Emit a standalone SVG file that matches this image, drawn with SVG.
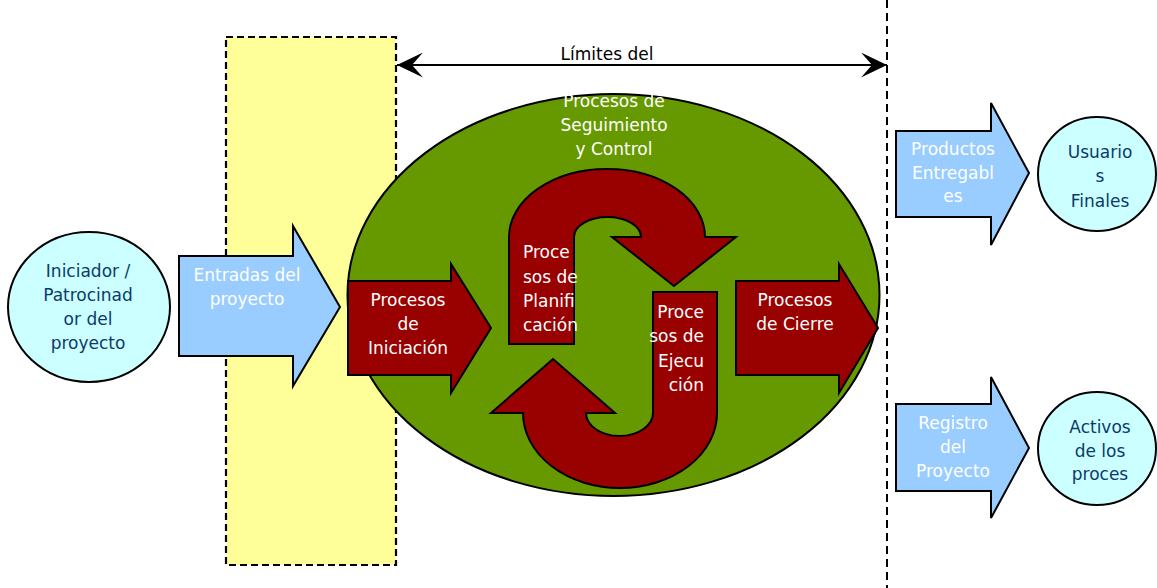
<svg xmlns="http://www.w3.org/2000/svg" width="1157" height="588" viewBox="0 0 1157 588">
  <style>
    .lbl { font-family: "DejaVu Sans", "Liberation Sans", sans-serif; font-size: 17px; }
    .white { fill: #ffffff; }
    .navy { fill: #0b3a6b; }
    .dark { fill: #000000; }
    .mid { text-anchor: middle; }
    .shape { stroke: #000000; stroke-width: 2; stroke-linejoin: miter; }
    .red { fill: #990000; }
    .blue { fill: #99ccff; }
    .cyan { fill: #ccffff; }
  </style>
  <defs>
    <marker id="stealth" viewBox="0 0 26 25" refX="26" refY="12.5" markerWidth="26" markerHeight="25" markerUnits="userSpaceOnUse" orient="auto-start-reverse">
      <path d="M0,0 L26,12.5 L0,25 L11,12.5 Z" fill="#000000"/>
    </marker>
  </defs>

  <rect width="1157" height="588" fill="#ffffff"/>

  <!-- inputs zone -->
  <g id="zona-entradas">
    <rect x="226" y="37" width="170" height="528" fill="#ffff99" stroke="#000000" stroke-width="2.2" stroke-dasharray="7 4"/>
  </g>

  <!-- project boundary line -->
  <g id="limite-derecho">
    <line x1="887" y1="0" x2="887" y2="588" stroke="#000000" stroke-width="2" stroke-dasharray="8 5"/>
  </g>

  <!-- monitoring and control -->
  <g id="seguimiento-control">
    <ellipse cx="613.5" cy="295" rx="266" ry="201" fill="#669900" class="shape"/>
    <text class="lbl white mid" x="614" y="107">Procesos de</text>
    <text class="lbl white mid" x="614" y="131">Seguimiento</text>
    <text class="lbl white mid" x="614" y="155">y Control</text>
  </g>

  <g id="iniciador">
    <ellipse cx="89" cy="307" rx="81" ry="75" class="shape cyan"/>
    <text class="lbl navy mid" x="88" y="277">Iniciador /</text>
    <text class="lbl navy mid" x="88" y="301">Patrocinad</text>
    <text class="lbl navy mid" x="88" y="325">or del</text>
    <text class="lbl navy mid" x="88" y="349">proyecto</text>
  </g>

  <g id="entradas">
    <path d="M179,256 L293,256 L293,226 L340,307 L293,386 L293,356 L179,356 Z" class="shape blue"/>
    <text class="lbl white mid" x="247" y="281">Entradas del</text>
    <text class="lbl white mid" x="247" y="305">proyecto</text>
  </g>

  <g id="iniciacion">
    <path d="M348,281 L451,281 L451,264 L491,328 L451,393 L451,375 L348,375 Z" class="shape red"/>
    <text class="lbl white mid" x="408" y="306">Procesos</text>
    <text class="lbl white mid" x="408" y="330">de</text>
    <text class="lbl white mid" x="408" y="354">Iniciación</text>
  </g>

  <g id="planificacion">
    <path d="M509,344 L509,237 A98,68 0 0 1 705,237 L736,237 L674,286 L612,237 L641,237 A33.5,20 0 0 0 574,237 L574,344 Z" class="shape red"/>
    <text class="lbl white" x="523" y="258">Proce</text>
    <text class="lbl white" x="523" y="283">sos de</text>
    <text class="lbl white" x="523" y="307">Planifi</text>
    <text class="lbl white" x="523" y="331">cación</text>
  </g>

  <g id="ejecucion">
    <path d="M653,292 L717,292 L717,413 A97,75 0 0 1 523,413 L491,413 L553,359 L615,413 L586,413 A33.5,23 0 0 0 653,413 Z" class="shape red"/>
    <text class="lbl white" text-anchor="end" x="704" y="318">Proce</text>
    <text class="lbl white" text-anchor="end" x="704" y="342">sos de</text>
    <text class="lbl white" text-anchor="end" x="704" y="367">Ejecu</text>
    <text class="lbl white" text-anchor="end" x="704" y="391">ción</text>
  </g>

  <g id="cierre">
    <path d="M736,281 L839,281 L839,264 L878,328 L839,393 L839,375 L736,375 Z" class="shape red"/>
    <text class="lbl white mid" x="795" y="306">Procesos</text>
    <text class="lbl white mid" x="795" y="330">de Cierre</text>
  </g>

  <g id="productos">
    <path d="M896,131 L991,131 L991,103 L1029,173 L991,245 L991,217 L896,217 Z" class="shape blue"/>
    <text class="lbl white mid" x="953" y="155">Productos</text>
    <text class="lbl white mid" x="953" y="179">Entregabl</text>
    <text class="lbl white mid" x="953" y="202">es</text>
  </g>

  <g id="usuarios">
    <ellipse cx="1097" cy="174" rx="59" ry="57" class="shape cyan"/>
    <text class="lbl navy mid" x="1100" y="158">Usuario</text>
    <text class="lbl navy mid" x="1100" y="182">s</text>
    <text class="lbl navy mid" x="1100" y="207">Finales</text>
  </g>

  <g id="registro">
    <path d="M896,404 L991,404 L991,377 L1029,448 L991,518 L991,491 L896,491 Z" class="shape blue"/>
    <text class="lbl white mid" x="953" y="429">Registro</text>
    <text class="lbl white mid" x="953" y="453">del</text>
    <text class="lbl white mid" x="953" y="477">Proyecto</text>
  </g>

  <g id="activos">
    <ellipse cx="1097" cy="448.5" rx="59" ry="56.5" class="shape cyan"/>
    <text class="lbl navy mid" x="1100" y="433">Activos</text>
    <text class="lbl navy mid" x="1100" y="457">de los</text>
    <text class="lbl navy mid" x="1100" y="480">proces</text>
  </g>

  <!-- connectors -->
  <g id="conectores">
    <line x1="397" y1="65" x2="887" y2="65" stroke="#000000" stroke-width="2" marker-start="url(#stealth)" marker-end="url(#stealth)"/>
    <text class="lbl dark mid" x="607" y="60">Límites del</text>
  </g>
</svg>
